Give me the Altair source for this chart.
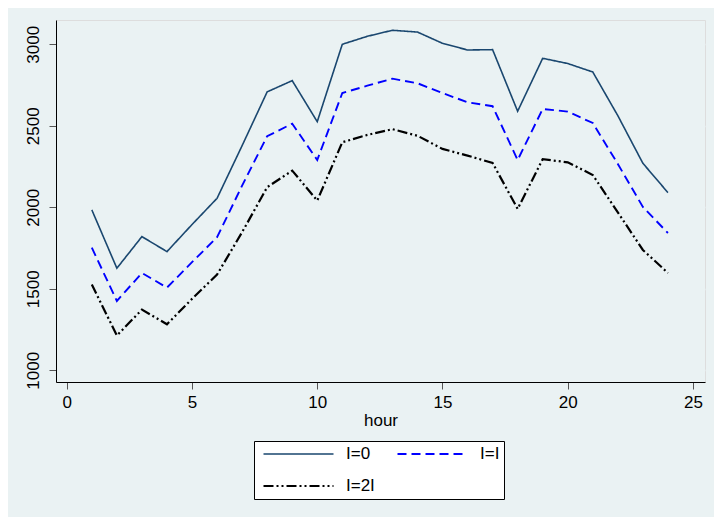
import altair as alt
import pandas as pd

hours = list(range(1, 25))
series_names = ["I=0", "I=I", "I=2I"]

l0 = [1984, 1626, 1820, 1728, 1894, 2055, 2378, 2708, 2777, 2525,
      3000, 3049, 3086, 3075, 3006, 2965, 2967, 2589, 2914, 2882,
      2830, 2562, 2270, 2090]
l1 = [1752, 1425, 1597, 1507, 1663, 1816, 2133, 2436, 2513, 2290,
      2701, 2746, 2789, 2761, 2701, 2644, 2620, 2290, 2603, 2587,
      2517, 2266, 2002, 1842]
l2 = [1526, 1213, 1372, 1282, 1438, 1587, 1847, 2123, 2225, 2041,
      2399, 2444, 2479, 2439, 2358, 2317, 2272, 1990, 2295, 2276,
      2198, 1969, 1738, 1597]

x_ticks = [0, 5, 10, 15, 20, 25]
y_ticks = [1000, 1500, 2000, 2500, 3000]

rows = []
for name, vals in zip(series_names, [l0, l1, l2]):
    for h, v in zip(hours, vals):
        rows.append({"hour": h, "value": v, "series": name})
df = pd.DataFrame(rows)

FONT = "Liberation Sans"
BG = "#eaf2f3"

legend = alt.Legend(
    title=None,
    orient="none",
    direction="horizontal",
    legendX=198,
    legendY=421,
    columns=2,
    fillColor="white",
    strokeColor="black",
    padding=4,
    symbolType="stroke",
    symbolSize=4900,
    symbolStrokeWidth=1.8,
    symbolOffset=4,
    clipHeight=18,
    rowPadding=14,
    columnPadding=17,
    labelOffset=11,
    labelFont=FONT,
    labelFontSize=17,
    labelColor="black",
    labelLimit=0,
)

chart = alt.Chart(df).mark_line().encode(
    x=alt.X("hour:Q",
            scale=alt.Scale(domain=[-0.43, 25.48], nice=False, zero=False),
            axis=alt.Axis(values=x_ticks, title="hour", grid=False, tickSize=7,
                          tickColor="#555555", domainColor="#000000",
                          labelFontSize=17, titleFontSize=17,
                          titleFontWeight="normal", labelPadding=5,
                          titlePadding=2, labelColor="black",
                          titleColor="black", labelFlush=False,
                          labelFont=FONT, titleFont=FONT, format="d")),
    y=alt.Y("value:Q",
            scale=alt.Scale(domain=[928, 3149], nice=False, zero=False),
            axis=alt.Axis(values=y_ticks, title=None, grid=True,
                          gridColor=BG, gridWidth=1.5, tickSize=7,
                          tickColor="#555555", domainColor="#000000",
                          labelAngle=270, labelAlign="center",
                          labelBaseline="bottom", labelPadding=7,
                          labelFontSize=17, labelColor="black",
                          labelFont=FONT, format="d", labelFlush=False)),
    color=alt.Color("series:N", sort=series_names,
                    scale=alt.Scale(domain=series_names,
                                    range=["#1a476f", "#0000ff", "#000000"]),
                    legend=legend),
    strokeDash=alt.StrokeDash("series:N", sort=series_names,
                              scale=alt.Scale(domain=series_names,
                                              range=[[1, 0], [9, 5], [10, 3, 2, 3, 2, 3]]),
                              legend=legend),
    strokeWidth=alt.StrokeWidth("series:N", sort=series_names,
                                scale=alt.Scale(domain=series_names,
                                                range=[1.6, 2.2, 2.2]),
                                legend=None),
    detail="series:N",
).properties(
    width=649,
    height=362,
    padding={"left": 48, "top": 12, "right": 9, "bottom": 135},
    autosize=alt.AutoSizeParams(type="none"),
    background=BG,
).configure_view(
    fill="white",
    stroke=None,
).configure(font=FONT)

chart.save("out.html", embed_options={"renderer": "svg", "actions": False})
